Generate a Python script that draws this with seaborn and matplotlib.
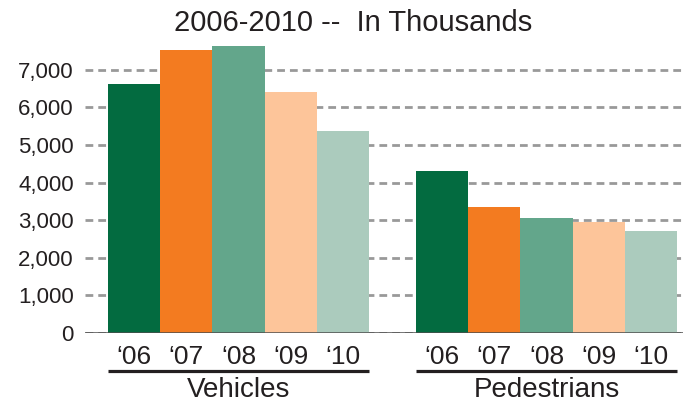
import numpy as np
import pandas as pd
import matplotlib
matplotlib.use("Agg")
import matplotlib.pyplot as plt
import matplotlib.transforms as mtransforms
import seaborn as sns

# Data (in thousands)
groups = ["Vehicles", "Pedestrians"]
years = ["\u201806", "\u201807", "\u201808", "\u201809", "\u201810"]
vehicles = [6620, 7530, 7640, 6410, 5380]
pedestrians = [4310, 3340, 3050, 2950, 2710]
colors = ["#036b40", "#f37b20", "#63a68b", "#fdc59a", "#abcbbd"]

df = pd.DataFrame({
    "Group": [g for g in groups for _ in years],
    "Year": years * 2,
    "Value": vehicles + pedestrians,
})

sns.set_theme(style="white")
plt.rcParams["font.family"] = ["Liberation Sans", "DejaVu Sans"]
txt = "#231f20"

fig = plt.figure(figsize=(6.83, 4.04), dpi=100)
ax = fig.add_axes([0.1245, 0.176, 0.8755, 0.716])

sns.barplot(data=df, x="Group", y="Value", hue="Year", palette=colors,
            width=0.85, saturation=1, legend=False, ax=ax)
for p in ax.patches:
    p.set_linewidth(0)

ax.set_ylim(0, 7700)
ax.set_xlim(-0.498, 1.443)
ax.set_yticks(range(0, 8000, 1000))
ax.set_yticklabels([f"{v:,}" for v in range(0, 8000, 1000)], fontsize=16, color=txt)
ax.tick_params(axis="y", length=0, pad=8)

# x ticks at every bar
centers = sorted(p.get_x() + p.get_width() / 2 for p in ax.patches)
ax.set_xticks(centers)
ax.set_xticklabels(years * 2, fontsize=19, color=txt)
ax.tick_params(axis="x", length=0, pad=9)
ax.set_xlabel("")
ax.set_ylabel("")

ax.set_axisbelow(True)
ax.yaxis.grid(True, color="#999999", linestyle=(0, (2.8, 1.8)), linewidth=2)
ax.axhline(0, color="#4d4d4d", lw=1.8, zorder=3)
for s in ax.spines.values():
    s.set_visible(False)

# group underlines and labels
trans = mtransforms.blended_transform_factory(ax.transData, ax.transAxes)
bw = ax.patches[0].get_width()
for i, g in enumerate(groups):
    left = i - 2.5 * bw
    right = i + 2.5 * bw
    ax.plot([left, right], [-0.131, -0.131], color=txt, lw=2.3,
            transform=trans, clip_on=False, solid_capstyle="butt")
    ax.text(i, -0.197, g, transform=trans, ha="center", va="center",
            fontsize=20, color=txt)

fig.text(0.517, 0.943, "2006-2010 --  In Thousands", ha="center", va="center",
         fontsize=21, color=txt)

fig.savefig("out.png", dpi=100)
